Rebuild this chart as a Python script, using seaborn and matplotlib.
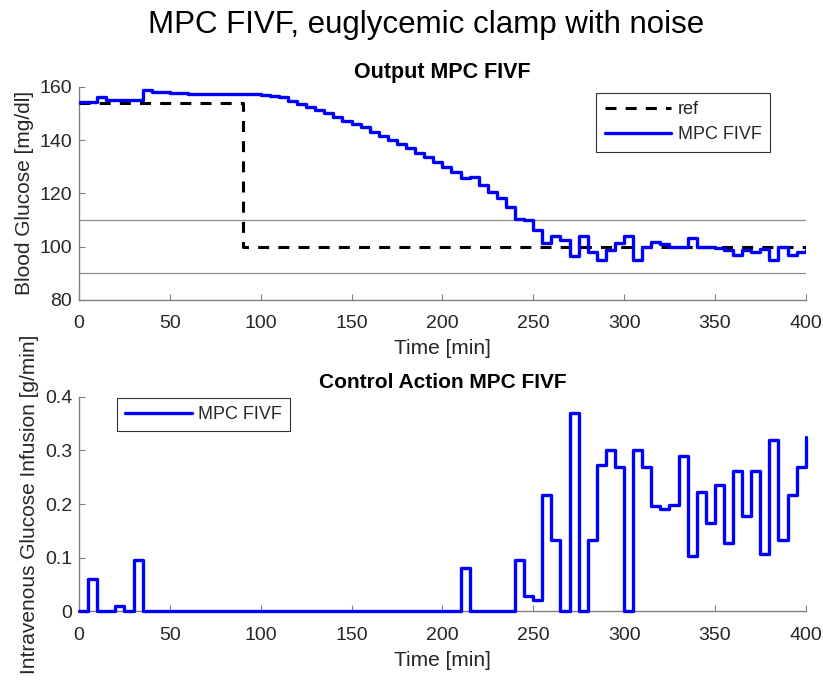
import numpy as np
import pandas as pd
import matplotlib
matplotlib.use("Agg")
import matplotlib.pyplot as plt
import seaborn as sns

# Sampling grid (5-minute controller period)
time_min = np.arange(0, 405, 5)

# Measured blood glucose [mg/dl]
glucose = [154.2, 154.2, 156.0, 155.0, 155.0, 155.0, 155.0, 158.9, 158.0, 158.0,
           157.6, 157.6, 157.3, 157.3, 157.3, 157.3, 157.3, 157.3, 157.3, 157.3,
           157.0, 156.7, 156.0, 154.8, 153.5, 152.5, 151.3, 150.0, 148.8, 147.3,
           146.0, 144.8, 143.1, 141.5, 140.0, 138.5, 136.9, 135.3, 133.5, 131.9,
           130.0, 128.1, 125.6, 126.3, 123.1, 120.6, 118.1, 114.8, 110.4, 109.8,
           106.2, 101.5, 104.0, 102.5, 96.5, 104.0, 98.1, 94.8, 98.8, 101.5,
           103.8, 95.0, 100.0, 101.9, 101.0, 100.0, 100.0, 103.1, 100.0, 100.0,
           99.5, 98.8, 96.9, 98.8, 98.1, 99.2, 95.0, 100.0, 96.9, 97.8, 98.8]

# Intravenous glucose infusion [g/min]
infusion = [0.0, 0.06, 0.0, 0.0, 0.01, 0.0, 0.095, 0.0,
            0.0, 0.0, 0.0, 0.0, 0.0, 0.0, 0.0, 0.0, 0.0, 0.0,
            0.0, 0.0, 0.0, 0.0, 0.0, 0.0, 0.0, 0.0, 0.0, 0.0,
            0.0, 0.0, 0.0, 0.0, 0.0, 0.0, 0.0, 0.0, 0.0, 0.0,
            0.0, 0.0, 0.0, 0.0,
            0.08, 0.0, 0.0, 0.0, 0.0, 0.0,
            0.095, 0.029, 0.021, 0.217, 0.133, 0.0, 0.37, 0.0, 0.133, 0.272,
            0.30, 0.27, 0.0, 0.30, 0.27, 0.196, 0.19, 0.198, 0.29, 0.104,
            0.223, 0.165, 0.235, 0.128, 0.262, 0.178, 0.262, 0.107, 0.32, 0.133,
            0.217, 0.27, 0.325]

# Reference trajectory and euglycemic band
ref_time = [0, 90, 400]
ref_glucose = [154, 100, 100]
band_limits = [90, 110]

x_ticks = [0, 50, 100, 150, 200, 250, 300, 350, 400]
glucose_ticks = [80, 100, 120, 140, 160]
infusion_ticks = [0, 0.1, 0.2, 0.3, 0.4]
infusion_ticklabels = ["0", "0.1", "0.2", "0.3", "0.4"]

sns.set_theme(style="ticks")
plt.rcParams["font.family"] = ["Liberation Sans", "DejaVu Sans"]

BLUE = "#0000ff"
AXIS_GREY = "#808080"
TEXT = "#262626"

df_out = pd.DataFrame({"t": time_min, "g": glucose})
df_in = pd.DataFrame({"t": time_min, "u": infusion})
df_ref = pd.DataFrame({"t": ref_time, "g": ref_glucose})

fig = plt.figure(figsize=(8.23, 6.83), dpi=100)
ax1 = fig.add_axes([0.096, 0.561, 0.883, 0.312])
ax2 = fig.add_axes([0.096, 0.105, 0.883, 0.314])

fig.text(0.518, 0.963, "MPC FIVF, euglycemic clamp with noise", ha="center", va="center",
         fontsize=22.5, color="#000000")


def style_axes(ax):
    for side in ("top", "right"):
        ax.spines[side].set_visible(False)
    for side in ("left", "bottom"):
        ax.spines[side].set_color(AXIS_GREY)
        ax.spines[side].set_linewidth(1.0)
    ax.tick_params(direction="in", length=4, width=0.8, color=AXIS_GREY,
                   labelsize=14, labelcolor=TEXT)
    ax.tick_params(axis="x", pad=11)
    ax.tick_params(axis="y", pad=5)
    ax.set_xlim(0, 400)
    ax.set_xticks(x_ticks)


legend_kw = dict(fontsize=13, frameon=True, fancybox=False, edgecolor="#333333",
                 framealpha=1, handlelength=3.7, handletextpad=0.35,
                 borderpad=0.45, borderaxespad=0.0)

# --- Output ---
for lim in band_limits:
    ax1.axhline(lim, color="#8c8c8c", lw=0.9, zorder=1)

sns.lineplot(data=df_ref, x="t", y="g", ax=ax1, drawstyle="steps-post", color="black",
             lw=2.2, label="ref", zorder=3)
ax1.lines[-1].set_dashes((3.6, 3.0))
sns.lineplot(data=df_out, x="t", y="g", ax=ax1, drawstyle="steps-post", color=BLUE,
             lw=2.4, label="MPC FIVF", zorder=4)
style_axes(ax1)
ax1.set_ylim(80, 160)
ax1.set_yticks(glucose_ticks)
ax1.set_title("Output MPC FIVF", fontsize=15.5, fontweight="bold", color="#000000", pad=6)
ax1.set_xlabel("Time [min]", fontsize=15, color=TEXT, labelpad=5)
ax1.set_ylabel("Blood Glucose [mg/dl]", fontsize=15, color=TEXT, labelpad=4)
leg1 = ax1.legend(loc="upper right", bbox_to_anchor=(0.9505, 0.97), labelspacing=0.45,
                  **legend_kw)
leg1.get_frame().set_linewidth(0.8)

# --- Control action ---
sns.lineplot(data=df_in, x="t", y="u", ax=ax2, drawstyle="steps-post", color=BLUE,
             lw=2.4, label="MPC FIVF", zorder=4)
for ln in ax2.lines:
    ln.set_clip_on(False)
style_axes(ax2)
ax2.set_ylim(0, 0.4)
ax2.set_yticks(infusion_ticks)
ax2.set_yticklabels(infusion_ticklabels)
ax2.set_title("Control Action MPC FIVF", fontsize=15, fontweight="bold", color="#000000", pad=6)
ax2.set_xlabel("Time [min]", fontsize=15, color=TEXT, labelpad=5)
ax2.set_ylabel("Intravenous Glucose Infusion [g/min]", fontsize=15, color=TEXT, labelpad=4)
leg2 = ax2.legend(loc="upper left", bbox_to_anchor=(0.052, 0.995), **legend_kw)
leg2.get_frame().set_linewidth(0.8)

fig.savefig("out.png", dpi=100, facecolor="white")
